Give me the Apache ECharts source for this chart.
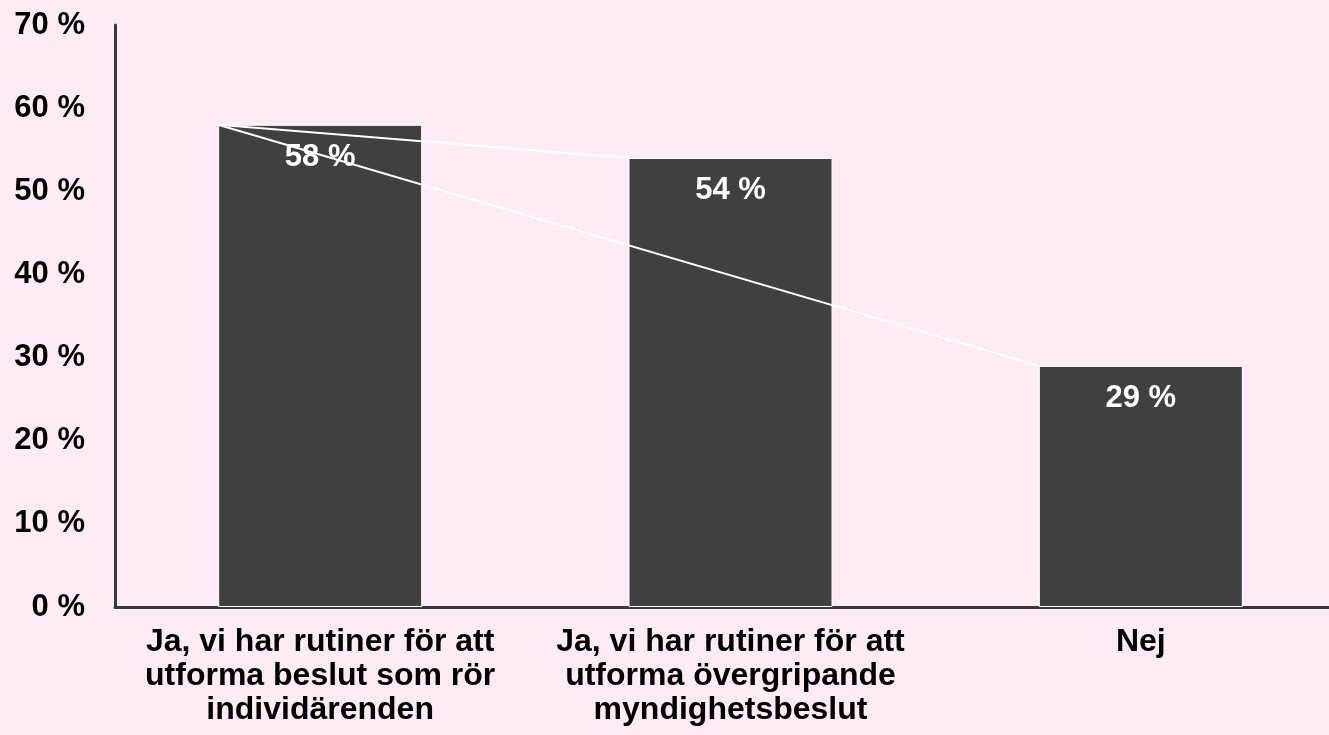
<!DOCTYPE html>
<html>
<head>
<meta charset="utf-8">
<title>Rutiner för beslut</title>
<script src="https://cdn.jsdelivr.net/npm/echarts@6/dist/echarts.min.js"></script>
<style>
  html, body { margin: 0; padding: 0; background: #feebf6; }
  #chart { width: 1329px; height: 735px; }
</style>
</head>
<body>
<div id="chart"></div>
<script>
const categories = [
  'Ja, vi har rutiner för att\nutforma beslut som rör\nindividärenden',
  'Ja, vi har rutiner för att\nutforma övergripande\nmyndighetsbeslut',
  'Nej'
]
const values = [58, 54, 29]
const yTicks = [0, 10, 20, 30, 40, 50, 60, 70]
// white connector lines: from the top-left corner of one bar to another
const connectors = [[0, 1], [0, 2]]

const barWidth = 204
const fontFamily = '"Liberation Sans", Arial, sans-serif'

const chart = echarts.init(document.getElementById('chart'))

chart.setOption({
  backgroundColor: '#feebf6',
  animation: false,
  grid: {
    left: 115,
    top: 25,
    bottom: 128,
    width: 1231,
    outerBoundsMode: 'none'
  },
  xAxis: {
    type: 'category',
    data: categories,
    axisLine: { lineStyle: { color: '#383838', width: 3 } },
    axisTick: { show: false },
    axisLabel: {
      color: '#000',
      fontFamily,
      fontWeight: 'bold',
      fontSize: 32,
      lineHeight: 34,
      margin: 18,
      interval: 0
    }
  },
  yAxis: {
    type: 'value',
    min: yTicks[0],
    max: yTicks[yTicks.length - 1],
    interval: 10,
    splitLine: { show: false },
    axisTick: { show: false },
    axisLine: { show: true, lineStyle: { color: '#383838', width: 3 } },
    axisLabel: {
      color: '#000',
      fontFamily,
      fontWeight: 'bold',
      fontSize: 31,
      margin: 30,
      formatter: v => v + ' %'
    }
  },
  series: [
    {
      type: 'bar',
      data: values,
      barWidth,
      itemStyle: { color: '#404040', borderColor: '#ffffff', borderWidth: 1 },
      label: {
        show: true,
        position: 'insideTop',
        distance: 17,
        color: '#fff',
        fontFamily,
        fontWeight: 'bold',
        fontSize: 31,
        formatter: p => p.value + ' %'
      }
    },
    {
      type: 'custom',
      z: 10,
      data: connectors.map(([a, b]) => [a, values[a], b, values[b]]),
      encode: { x: [0, 2], y: [1, 3] },
      renderItem(params, api) {
        const p1 = api.coord([api.value(0), api.value(1)])
        const p2 = api.coord([api.value(2), api.value(3)])
        return {
          type: 'line',
          shape: {
            x1: p1[0] - barWidth / 2,
            y1: p1[1],
            x2: p2[0] - barWidth / 2,
            y2: p2[1]
          },
          style: { stroke: '#ffffff', lineWidth: 2 }
        }
      }
    }
  ]
})
</script>
</body>
</html>
